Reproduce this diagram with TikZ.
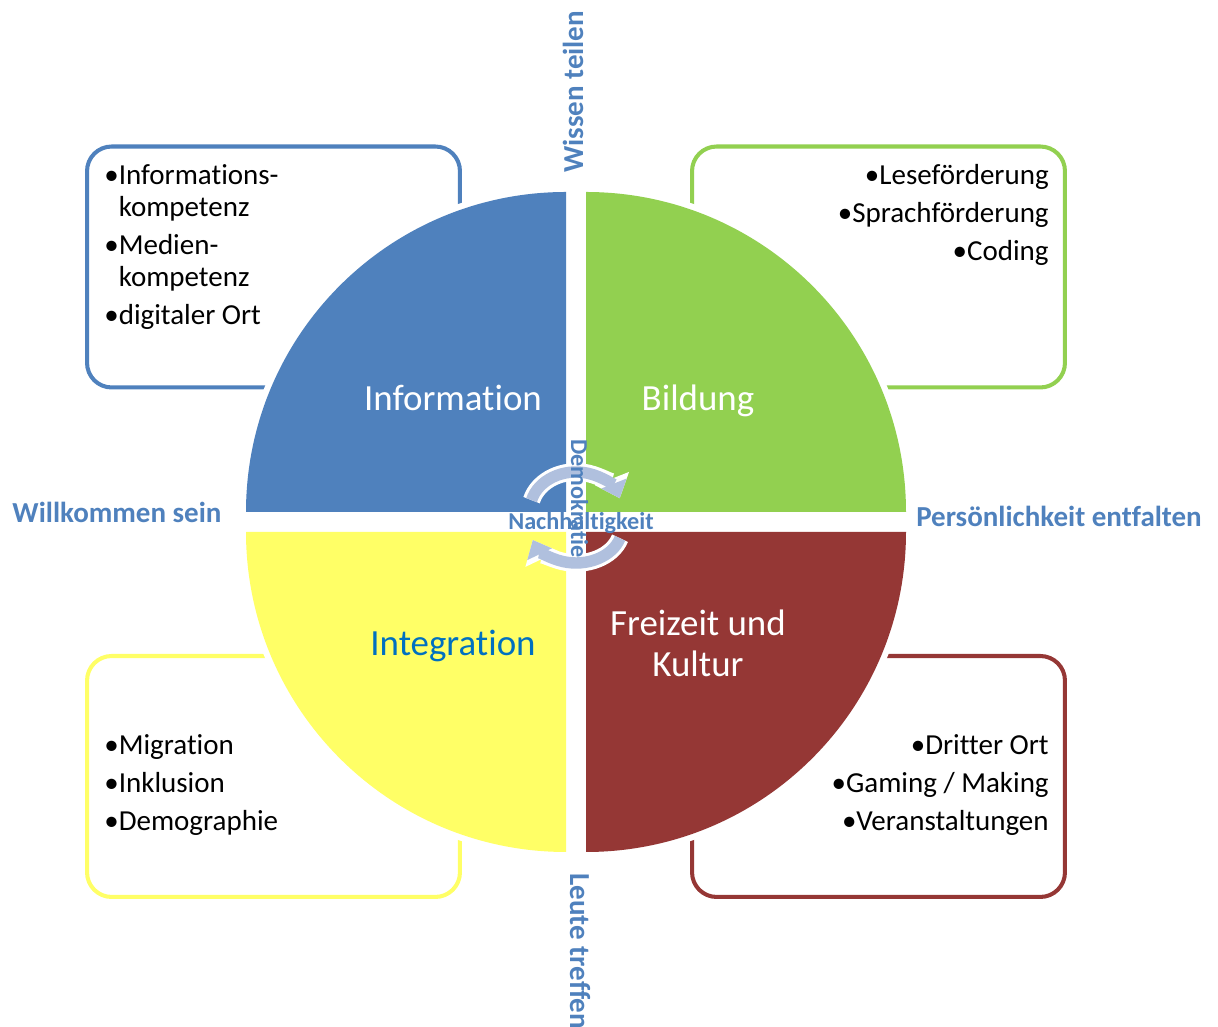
\documentclass[tikz,border=0pt]{standalone}
\usepackage{fontspec}
\setmainfont{Carlito}[Ligatures=NoCommon, Contextuals=NoAlternate]
\usetikzlibrary{arrows.meta}
\definecolor{infoblue}{HTML}{4F81BD}
\definecolor{bildgreen}{HTML}{92D050}
\definecolor{integyellow}{HTML}{FFFF66}
\definecolor{kulturred}{HTML}{953735}
\definecolor{integtext}{HTML}{0070C0}
\definecolor{turngray}{HTML}{B0C0DE}
\newcommand{\InformationColor}{infoblue}
\newcommand{\BildungColor}{bildgreen}
\newcommand{\IntegrationColor}{integyellow}
\newcommand{\KulturColor}{kulturred}

\begin{document}
\begin{tikzpicture}[
	% Define styles and settings
	x=0.02cm, y=0.02cm,
	topicbox/.style={rectangle, draw=#1, line width=2.3pt, rounded corners=14pt, minimum width=7.46cm, minimum height=4.82cm},
	quarter/.style={fill=#1, preaction={draw=white, line width=7pt}},
	bullets/.style={font=\fontsize{16.5pt}{18.2pt}\selectfont, inner sep=0pt},
	topic/.style={font=\fontsize{21pt}{23.3pt}\selectfont, text=white, inner sep=0pt},
	value/.style={font=\bfseries\fontsize{16.5pt}{19pt}\selectfont, text=infoblue, inner sep=0pt},
	centertext/.style={font=\bfseries\fontsize{13.8pt}{16pt}\selectfont, text=infoblue, inner sep=0pt},
	turn/.style={turngray, line width=6.5pt, -{Triangle[width=15pt, length=9pt]},
		preaction={draw=white, line width=10pt, -{Triangle[width=20pt, length=12pt]}}}
	]
	\useasboundingbox (0,0) rectangle (1218,1027);
	\clip (0,0) rectangle (1218,1027);

	% boxes with the keywords
	\node[topicbox=\InformationColor] (infoBox) at (273.5,760) {};
	\node[topicbox=\BildungColor] (bildBox) at (878.5,760) {};
	\node[topicbox=\IntegrationColor] (integBox) at (273.5,250.5) {};
	\node[topicbox=\KulturColor] (kulturBox) at (878.5,250.5) {};

	% the four quarters
	\path[quarter=\InformationColor] (566,515) -- ++(-320,0) arc[start angle=180, end angle=90, radius=320] -- cycle;
	\path[quarter=\BildungColor] (586,515) -- ++(0,320) arc[start angle=90, end angle=0, radius=320] -- cycle;
	\path[quarter=\IntegrationColor] (566,495) -- ++(-320,0) arc[start angle=180, end angle=270, radius=320] -- cycle;
	\path[quarter=\KulturColor] (586,495) -- ++(320,0) arc[start angle=0, end angle=-90, radius=320] -- cycle;

	\node[bullets, anchor=base west] (infoList) at (104,842) {\begin{tabular}[t]{@{}l@{}l@{}}
		•&Informations-\\ &kompetenz\\[3.4pt]
		•&Medien-\\ &kompetenz\\[3.4pt]
		•&digitaler Ort\end{tabular}};
	\node[bullets, anchor=base east] (bildList) at (1049,842) {\begin{tabular}[t]{@{}r@{}}
		•Leseförderung\\[3.4pt] •Sprachförderung\\[3.4pt] •Coding\end{tabular}};
	\node[bullets, anchor=base west] (integList) at (104,272) {\begin{tabular}[t]{@{}l@{}}
		•Migration\\[3.4pt] •Inklusion\\[3.4pt] •Demographie\end{tabular}};
	\node[bullets, anchor=base east] (kulturList) at (1049,272) {\begin{tabular}[t]{@{}r@{}}
		•Dritter Ort\\[3.4pt] •Gaming / Making\\[3.4pt] •Veranstaltungen\end{tabular}};

	\node[topic, anchor=base] (infoLabel) at (453,616) {Information};
	\node[topic, anchor=base] (bildLabel) at (698,616) {Bildung};
	\node[topic, anchor=base, text=integtext] (integLabel) at (453,371) {Integration};
	\node[topic, align=center] (kulturLabel) at (698,384) {Freizeit und\\Kultur};

	% values around the circle
	\node[value, anchor=base] (welcome) at (117,504) {Willkommen sein};
	\node[value, anchor=base] (personal) at (1059,500) {Persönlichkeit entfalten};
	\node[value, anchor=base, rotate=90] (knowledge) at (583,935) {Wissen teilen};
	\node[value, anchor=base west, rotate=-90] (meeting) at (570,154) {Leute treffen};

	% cycle in the middle
	\draw[turn] (576,517) ++(165:46 and 38) arc[start angle=165, end angle=18, x radius=46, y radius=38];
	\draw[turn] (576,499) ++(-17:46 and 35) arc[start angle=-17, end angle=-160, x radius=46, y radius=35];

	\node[centertext, anchor=base west, rotate=-90] (democracy) at (571,588) {Demokratie};
	\node[centertext, anchor=base] (sustain) at (581,497) {Nachhaltigkeit};

\end{tikzpicture}
\end{document}
